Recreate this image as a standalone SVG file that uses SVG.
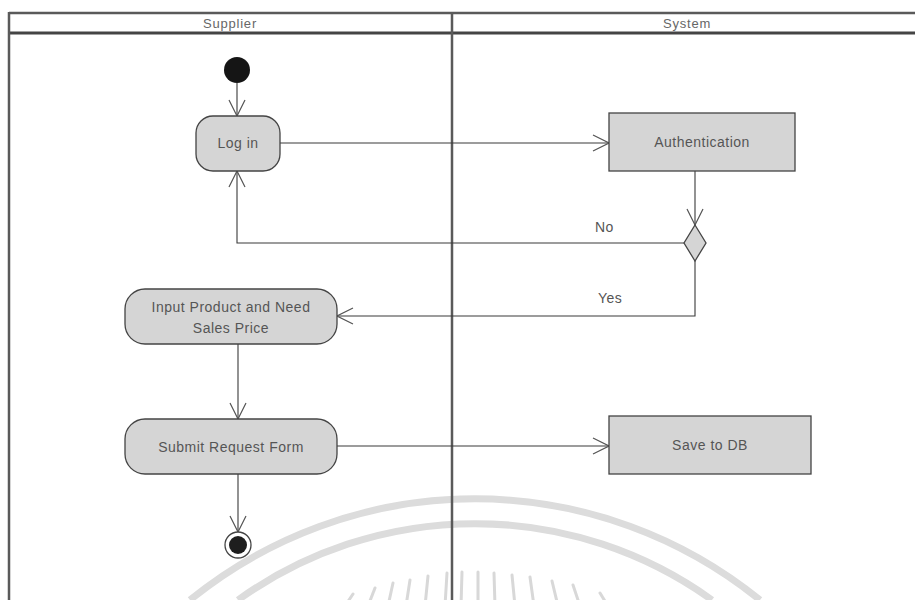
<svg xmlns="http://www.w3.org/2000/svg" width="915" height="600" viewBox="0 0 915 600">
  <style>
    .lane { stroke: #5a5a5a; stroke-width: 2.5; fill: none; }
    .lane-head { stroke: #444; stroke-width: 3; fill: none; }
    .lane-title { font-family: "Liberation Sans", Arial, sans-serif; font-size: 13px; letter-spacing: 0.8px; fill: #666; text-anchor: middle; }
    .action { fill: #d5d5d5; stroke: #444; stroke-width: 1.3; }
    .label { font-family: "Liberation Sans", Arial, sans-serif; font-size: 14px; letter-spacing: 0.5px; fill: #555; text-anchor: middle; }
    .guard { font-family: "Liberation Sans", Arial, sans-serif; font-size: 14px; letter-spacing: 0.4px; fill: #555; }
    .flow { stroke: #3a3a3a; stroke-width: 1.1; fill: none; marker-end: url(#open-arrow); }
    .mark { stroke: #dcdcdc; fill: none; }
  </style>
  <defs>
    <marker id="open-arrow" viewBox="0 0 18 18" refX="17" refY="9" markerWidth="18" markerHeight="18" orient="auto" markerUnits="userSpaceOnUse">
      <path d="M1,1 L17,9 L1,17" fill="none" stroke="#555" stroke-width="1.2"/>
    </marker>
  </defs>

  <rect width="915" height="600" fill="#ffffff"/>

  <!-- faint emblem behind the diagram -->
  <g id="emblem">
    <path class="mark" stroke-width="7" d="M190,600 A452,452 0 0 1 760,600"/>
    <path class="mark" stroke-width="7" d="M238,600 A406,406 0 0 1 712,600"/>
    <g stroke="#d8d8d8" stroke-width="3" stroke-linecap="round">
      <line x1="353" y1="594" x2="345" y2="606"/>
      <line x1="375" y1="588" x2="368" y2="606"/>
      <line x1="393" y1="583" x2="388" y2="606"/>
      <line x1="410" y1="580" x2="406" y2="606"/>
      <line x1="428" y1="576" x2="425" y2="606"/>
      <line x1="447" y1="573" x2="445" y2="606"/>
      <line x1="462" y1="572" x2="461" y2="606"/>
      <line x1="478" y1="572" x2="478" y2="606"/>
      <line x1="494" y1="573" x2="495" y2="606"/>
      <line x1="512" y1="575" x2="515" y2="606"/>
      <line x1="530" y1="577" x2="534" y2="606"/>
      <line x1="552" y1="581" x2="558" y2="606"/>
      <line x1="573" y1="585" x2="580" y2="606"/>
      <line x1="600" y1="593" x2="608" y2="606"/>
    </g>
  </g>

  <!-- swimlanes -->
  <g id="lanes">
    <line class="lane" x1="9" y1="13" x2="915" y2="13"/>
    <line class="lane-head" x1="9" y1="33" x2="915" y2="33"/>
    <line class="lane" x1="9" y1="12" x2="9" y2="600"/>
    <line class="lane" x1="452" y1="12" x2="452" y2="600"/>
    <text class="lane-title" x="230" y="28">Supplier</text>
    <text class="lane-title" x="687" y="28">System</text>
  </g>

  <!-- control flows -->
  <g id="connectors">
    <path class="flow" d="M237,83 V116"/>
    <path class="flow" d="M280,143 H609"/>
    <path class="flow" d="M695,171 V225"/>
    <path class="flow" d="M684,243 H237 V171"/>
    <path class="flow" d="M695,261 V316 H337"/>
    <path class="flow" d="M238,344 V419"/>
    <path class="flow" d="M337,446 H609"/>
    <path class="flow" d="M238,474 V532"/>
    <text class="guard" x="595" y="232">No</text>
    <text class="guard" x="598" y="303">Yes</text>
  </g>

  <g id="start">
    <circle cx="237" cy="70" r="13" fill="#151515"/>
  </g>

  <g id="log-in">
    <rect class="action" x="196" y="116" width="84" height="55" rx="17"/>
    <text class="label" x="238" y="148">Log in</text>
  </g>

  <g id="authentication">
    <rect class="action" x="609" y="113" width="186" height="58"/>
    <text class="label" x="702" y="147">Authentication</text>
  </g>

  <g id="auth-decision">
    <polygon class="action" points="695,225 706,243 695,261 684,243"/>
  </g>

  <g id="input-product">
    <rect class="action" x="125" y="289" width="212" height="55" rx="20"/>
    <text class="label" x="231" y="312">Input Product and Need</text>
    <text class="label" x="231" y="333">Sales Price</text>
  </g>

  <g id="submit-form">
    <rect class="action" x="125" y="419" width="212" height="55" rx="20"/>
    <text class="label" x="231" y="452">Submit Request Form</text>
  </g>

  <g id="save-db">
    <rect class="action" x="609" y="416" width="202" height="58"/>
    <text class="label" x="710" y="450">Save to DB</text>
  </g>

  <g id="end">
    <circle cx="238" cy="545" r="13" fill="#ffffff" stroke="#444" stroke-width="1.3"/>
    <circle cx="238" cy="545" r="9" fill="#1e1e1e"/>
  </g>
</svg>
